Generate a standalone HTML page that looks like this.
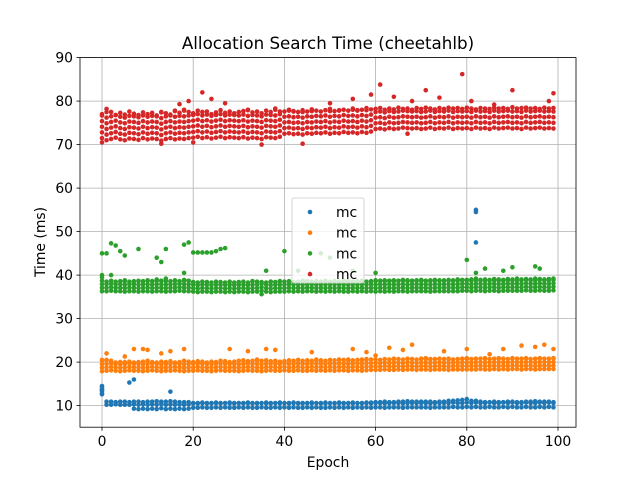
<!DOCTYPE html>
<html><head><meta charset="utf-8"><style>
body{margin:0;background:#fff;}
svg text{font-family:"DejaVu Sans","Liberation Sans",sans-serif;}
</style></head><body>
<svg id="chart" width="640" height="480" viewBox="0 0 640 480">
<rect width="640" height="480" fill="#fff"/>
<text x="328" y="49" text-anchor="middle" font-size="16.7" fill="#000">Allocation Search Time (cheetahlb)</text>
<g id="grid"></g>
<g id="marks"></g>
<rect x="80" y="57.6" width="496" height="369.6" fill="none" stroke="#000" stroke-width="0.8"/>
<g id="ticks"></g>
<text x="328" y="467" text-anchor="middle" font-size="13.9">Epoch</text>
<text transform="translate(45,242) rotate(-90)" text-anchor="middle" font-size="13.9">Time (ms)</text>
<g id="legend"></g>
</svg>
<script>
const xTicks=[0,20,40,60,80,100];
const yTicks=[10,20,30,40,50,60,70,80,90];
const colors=["#1f77b4","#ff7f0e","#2ca02c","#d62728"];
const seriesNames=["mc","mc","mc","mc"];
const blueLo=[12.6,10.2,10.2,10.3,10.2,10.2,10.2,9.3,9.2,9.3,9.2,9.3,9.2,9.4,9.2,9.3,9.2,9.3,9.2,9.3,9.5,9.5,9.6,9.5,9.5,9.6,9.5,9.6,9.5,9.5,9.6,9.5,9.6,9.5,9.5,9.6,9.5,9.5,9.6,9.5,9.6,9.5,9.6,9.5,9.5,9.6,9.5,9.6,9.5,9.5,9.6,9.5,9.6,9.5,9.6,9.5,9.6,9.5,9.6,9.5,9.6,9.6,9.5,9.6,9.6,9.6,9.5,9.6,9.6,9.6,9.6,9.6,9.5,9.6,9.6,9.6,9.6,9.7,9.6,9.6,9.7,9.6,9.7,9.6,9.6,9.7,9.6,9.6,9.7,9.6,9.7,9.6,9.6,9.7,9.6,9.6,9.7,9.6,9.7,9.6];
const blueHi=[14.5,10.9,10.9,10.8,10.9,10.9,10.8,10.9,10.9,10.8,10.9,10.9,11.0,10.9,10.9,11.0,10.9,10.8,10.8,10.8,10.6,10.6,10.7,10.6,10.6,10.7,10.6,10.6,10.7,10.6,10.6,10.6,10.7,10.6,10.6,10.6,10.7,10.6,10.6,10.7,10.6,10.6,10.7,10.6,10.6,10.6,10.7,10.6,10.6,10.7,10.6,10.6,10.7,10.6,10.6,10.7,10.6,10.6,10.7,10.7,10.8,10.8,10.9,10.8,10.8,10.9,10.9,11.0,10.9,10.9,10.9,10.9,10.9,10.8,10.9,10.9,11.1,11.1,11.2,11.3,11.5,11.1,11.1,10.9,10.8,10.8,10.9,10.8,10.8,10.9,10.9,10.8,10.8,10.9,10.9,11.0,10.9,10.9,10.9,10.8];
const orangeLo=[17.9,18.0,18.1,18.0,17.9,18.0,18.1,18.0,18.0,17.9,18.0,18.1,18.0,17.9,18.0,18.0,18.1,18.0,17.9,18.0,18.0,18.1,18.0,18.0,17.9,18.0,18.1,18.0,18.0,18.0,17.9,18.0,18.1,18.0,18.0,17.9,18.0,18.1,18.0,18.0,18.1,18.0,18.0,18.1,18.0,18.0,18.1,18.0,18.1,18.0,18.1,18.0,18.1,18.1,18.0,18.1,18.1,18.0,18.1,18.2,18.2,18.2,18.3,18.2,18.2,18.3,18.2,18.3,18.3,18.2,18.3,18.3,18.2,18.3,18.3,18.3,18.2,18.3,18.3,18.3,18.3,18.3,18.3,18.4,18.3,18.3,18.4,18.3,18.4,18.3,18.4,18.4,18.3,18.4,18.4,18.3,18.4,18.4,18.4,18.4];
const orangeHi=[20.5,20.5,20.3,19.9,20.0,20.0,20.1,19.9,20.0,20.1,20.3,20.0,19.9,20.1,20.0,20.2,19.9,20.0,20.3,20.1,20.0,20.2,20.1,19.9,20.1,20.0,20.3,20.2,20.0,20.1,20.3,20.4,20.2,20.3,20.6,20.3,20.4,20.2,20.3,20.1,20.2,20.4,20.3,20.5,20.3,20.4,20.3,20.6,20.4,20.3,20.5,20.4,20.6,20.5,20.6,20.4,20.5,20.6,20.7,20.6,20.6,20.5,20.7,20.6,20.8,20.7,20.6,20.8,20.7,20.6,20.8,20.9,20.7,20.7,20.8,20.7,20.8,20.6,20.7,20.8,20.9,20.7,20.8,20.8,20.9,20.7,20.8,20.9,20.8,20.7,20.9,20.8,20.8,20.9,20.7,20.8,20.9,20.8,20.8,20.9];
const greenLo=[36.3,36.3,36.4,36.3,36.3,36.2,36.3,36.3,36.2,36.3,36.3,36.2,36.3,36.3,36.2,36.3,36.3,36.4,36.3,36.3,36.2,36.1,36.2,36.2,36.1,36.2,36.2,36.1,36.2,36.1,36.2,36.2,36.1,36.2,36.2,35.6,36.2,36.1,36.2,36.2,36.2,36.3,36.2,36.3,36.2,36.3,36.3,36.2,36.3,36.2,36.3,36.2,36.3,36.2,36.2,36.3,36.2,36.3,36.2,36.3,36.2,36.3,36.2,36.3,36.2,36.3,36.3,36.2,36.3,36.3,36.3,36.3,36.2,36.3,36.3,36.3,36.3,36.3,36.3,36.4,36.4,36.3,36.4,36.4,36.3,36.4,36.4,36.3,36.4,36.4,36.4,36.4,36.4,36.5,36.4,36.4,36.5,36.4,36.4,36.5];
const greenHi=[40.0,38.5,38.7,38.5,38.6,38.8,38.5,38.6,38.7,38.6,38.8,38.6,39.0,38.7,39.2,38.6,38.8,38.6,38.9,38.7,38.4,38.3,38.5,38.4,38.3,38.5,38.4,38.3,38.5,38.3,38.4,38.5,38.3,38.6,38.5,38.4,38.3,38.5,38.4,38.6,38.5,38.6,38.4,38.5,38.7,38.6,38.5,38.6,38.5,38.7,38.5,38.6,38.5,38.7,38.6,38.5,38.6,38.7,38.5,38.6,38.8,38.7,38.8,38.7,38.8,38.7,38.9,38.8,38.7,38.8,38.9,38.7,38.8,38.9,38.8,38.8,38.9,38.8,39.0,38.9,38.9,39.0,39.2,38.9,39.0,38.9,39.1,39.0,38.9,39.1,39.0,39.2,39.0,39.1,39.0,39.2,39.1,39.0,39.1,39.2];
const redLo=[71.5,71.0,71.3,71.6,71.2,71.0,71.4,71.3,71.1,71.5,71.2,71.4,71.3,70.9,71.3,71.5,71.2,71.4,71.3,71.5,71.6,71.8,71.5,71.7,71.4,71.6,71.8,71.5,71.7,71.6,71.5,71.7,71.4,71.6,71.5,71.3,71.7,71.6,71.5,71.8,72.5,72.6,72.4,72.5,72.3,72.6,72.5,72.7,72.6,72.8,72.5,72.7,72.6,72.9,72.7,72.8,72.6,72.9,72.7,73.0,73.6,73.7,73.5,73.8,73.6,73.7,73.9,72.5,73.7,73.8,73.6,73.7,73.9,73.6,73.8,73.7,73.9,73.6,73.8,73.7,73.8,73.6,73.9,73.7,73.8,73.6,73.9,73.7,73.8,73.9,73.7,73.8,73.6,73.9,73.7,73.8,73.9,73.7,73.8,73.7];
const redHi=[77.0,78.2,77.5,76.8,77.3,76.9,77.6,77.1,76.8,77.4,77.0,77.3,76.7,77.5,77.2,76.9,77.8,77.3,78.0,77.5,77.2,77.8,77.5,77.6,77.0,77.4,77.9,77.3,77.6,77.2,77.5,77.7,78.0,77.4,77.6,77.2,77.8,77.5,78.3,77.6,77.6,78.0,77.7,77.5,77.9,77.6,78.1,77.8,77.6,77.9,78.2,77.7,77.9,78.0,77.8,78.3,77.9,78.0,78.4,78.1,78.2,78.4,78.0,78.3,78.1,78.5,78.2,78.3,78.0,78.4,78.2,78.5,78.3,78.1,78.4,78.2,78.5,78.3,78.4,78.2,78.5,78.3,78.1,78.4,78.3,78.2,78.5,78.3,78.4,78.2,78.6,78.3,78.4,78.5,78.3,78.4,78.2,78.5,78.3,78.4];
const blueOut=[[0,12.8],[0,13.3],[0,13.8],[0,14.2],[6,15.3],[7,16],[15,13.2],[82,55],[82,54.5],[82,47.5]];
const orangeOut=[[1,22],[5,21.3],[7,23],[9,23],[10,22.8],[13,22],[15,22.5],[18,23],[28,23],[32,22.5],[36,23],[38,22.8],[46,22.3],[55,23],[58,22.3],[60,21.5],[63,23.3],[66,22.8],[68,24],[75,22.5],[80,23],[85,21.8],[88,23],[92,23.8],[95,23.5],[97,24],[99,23]];
const greenOut=[[0,45],[1,45],[2,47.3],[3,46.8],[4,45.5],[5,44.5],[8,46],[12,44],[13,43],[14,46],[18,47],[19,47.5],[18,40.5],[20,45.2],[21,45.2],[22,45.2],[23,45.2],[24,45.2],[25,45.5],[26,46],[27,46.2],[2,40],[36,41],[40,45.5],[43,41],[48,45],[50,44],[55,41],[60,40.5],[80,43.5],[82,40.5],[84,41.5],[88,41],[90,41.8],[95,42],[96,41.5]];
const redOut=[[17,79.3],[19,80],[22,82],[24,80.5],[27,79.5],[50,79.5],[55,80.5],[59,81.5],[61,83.8],[64,81],[68,80],[71,82.5],[74,80.8],[79,86.2],[81,80],[86,79.2],[90,82.5],[98,80],[99,81.8],[0,70.5],[13,70.2],[20,70.5],[35,70],[44,70.2]];

const NS="http://www.w3.org/2000/svg";
const X=v=>102+4.56*v, Y=v=>405.6-(v-10)*4.35;
function mk(tag,attrs,parent){const e=document.createElementNS(NS,tag);for(const k in attrs)e.setAttribute(k,attrs[k]);parent.appendChild(e);return e;}
const grid=document.getElementById('grid'),ticks=document.getElementById('ticks'),marks=document.getElementById('marks');
xTicks.forEach(t=>{
  const l=mk('line',{x1:X(t),x2:X(t),y1:57.6,y2:427.2,stroke:'#b0b0b0','stroke-width':0.8},grid);
  
  
  mk('line',{x1:X(t),x2:X(t),y1:427.2,y2:430.7,stroke:'#000','stroke-width':0.8},ticks);
  const tx=mk('text',{x:X(t),y:446,'text-anchor':'middle','font-size':13.9},ticks);tx.textContent=t;
  
  
});
yTicks.forEach(t=>{
  const l=mk('line',{x1:80,x2:576,y1:Y(t),y2:Y(t),stroke:'#b0b0b0','stroke-width':0.8},grid);
  
  
  mk('line',{x1:76.5,x2:80,y1:Y(t),y2:Y(t),stroke:'#000','stroke-width':0.8},ticks);
  const tx=mk('text',{x:73,y:Y(t)+5,'text-anchor':'end','font-size':13.9},ticks);tx.textContent=t;
  
  
});
const series=[[blueLo,blueHi,blueOut,1.0],[orangeLo,orangeHi,orangeOut,0.8],[greenLo,greenHi,greenOut,0.8],[redLo,redHi,redOut,1.3]];
series.forEach((s,si)=>{
  const g=mk('g',{fill:colors[si]},marks);
  
  
  const [lo,hi,out,step]=s;
  lo.forEach((l,i)=>{
    const h=hi[i];
    for(let v=l;v<h;v+=step){
      const c=mk('circle',{cx:X(i),cy:Y(v),r:2.3},g);
      
    }
    const c=mk('circle',{cx:X(i),cy:Y(h),r:2.3},g);
    
  });
  out.forEach(p=>{
    const c=mk('circle',{cx:X(p[0]),cy:Y(p[1]),r:2.3},g);
    
  });
});
const lg=document.getElementById('legend');
mk('rect',{x:292,y:198,width:72,height:85,rx:2,fill:'#fff','fill-opacity':0.8,stroke:'#ccc','stroke-width':0.8},lg);
seriesNames.forEach((n,i)=>{
  const e=mk('g',{},lg);
  
  
  const y=212+i*20.7;
  mk('circle',{cx:310,cy:y,r:2.3,fill:colors[i]},e);
  const t=mk('text',{x:336,y:y+5,'font-size':13.9},e);t.textContent=n;
});
</script>
</body></html>
